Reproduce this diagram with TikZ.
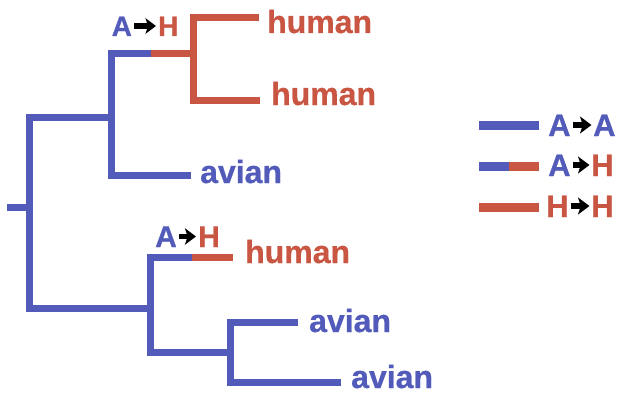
\documentclass[tikz,border=0pt]{standalone}
\usepackage{fontspec}
\setmainfont{Liberation Sans}
\newfontfamily\labelfont{Liberation Sans Bold}[FakeBold=0.6]
\usetikzlibrary{arrows.meta,calc}
\definecolor{avianblue}{RGB}{82,91,186}
\definecolor{humanred}{RGB}{201,86,66}
\tikzset{
  branch/.style={line width=7pt, line join=miter, line cap=butt},
  keyline/.style={line width=9pt, line cap=butt},
  leaf/.style={anchor=base west, inner sep=0pt, font=\labelfont\fontsize{32}{36}\selectfont},
  hostA/.style={anchor=base west, inner sep=0pt, text=avianblue, font=\labelfont\fontsize{#1}{#1}\selectfont},
  hostH/.style={anchor=base west, inner sep=0pt, text=humanred, font=\labelfont\fontsize{#1}{#1}\selectfont},
  jump/.style={black, line width=#1, -{Stealth[length=1.9*#1, width=2.8*#1, inset=0.45*#1]}},
}
\begin{document}
\begin{tikzpicture}[x=1pt, y=-1pt]
\useasboundingbox (0,0) rectangle (618,396);

% ---- tree: internal nodes and tips
\coordinate (root)  at (29,207);
\coordinate (stub)  at (7,207);

% root
\draw[branch, avianblue] (stub) -- (root);
\draw[branch, avianblue] (111,117) -- (29,117) -- (29,308) -- (150,308);

% upper clade
\draw[branch, avianblue] (191,175) -- (111,175) -- (111,54) -- (151,54);
\draw[branch, humanred] (151,54) -- (193,54);
\draw[branch, humanred] (259,18) -- (193,18) -- (193,100) -- (260,100);

% lower clade
\draw[branch, avianblue] (192,257) -- (150,257) -- (150,352) -- (230,352);
\draw[branch, humanred] (192,257) -- (233,257);
\draw[branch, avianblue] (298,322) -- (230,322) -- (230,382) -- (341,382);

% ---- tip labels
\node[leaf, text=humanred]  (t1) at (267,33)  {human};
\node[leaf, text=humanred]  (t2) at (271,105) {human};
\node[leaf, text=avianblue] (t3) at (200,183) {avian};
\node[leaf, text=humanred]  (t4) at (245,263) {human};
\node[leaf, text=avianblue] (t5) at (309,332) {avian};
\node[leaf, text=avianblue] (t6) at (351,388) {avian};

% ---- host switch marks on the tree
\node[hostA=28] (a1) at (111.5,36) {A};
\node[hostH=28] (h1) at (158,36) {H};
\draw[jump=5.5pt] ($(a1.base east)+(2pt,10pt)$) -- ($(h1.base west)+(-2pt,10pt)$);

\node[hostA=30] (a2) at (155,247) {A};
\node[hostH=30] (h2) at (198,247) {H};
\draw[jump=5.8pt] ($(a2.base east)+(2pt,10.5pt)$) -- ($(h2.base west)+(-2pt,10.5pt)$);

% ---- key
\coordinate (k1l) at (479,125); \coordinate (k1r) at (539,125);
\coordinate (k2l) at (479,166); \coordinate (k2m) at (509,166); \coordinate (k2r) at (539,166);
\coordinate (k3l) at (479,207); \coordinate (k3r) at (539,207);
\draw[keyline, avianblue] (k1l) -- (k1r);
\draw[keyline, avianblue] (k2l) -- (k2m);
\draw[keyline, humanred]  (k2m) -- (k2r);
\draw[keyline, humanred]  (k3l) -- (k3r);

\node[hostA=31] (ka1) at (548,136) {A};
\node[hostA=31] (kb1) at (593,136) {A};
\draw[jump=6pt] ($(ka1.base east)+(2pt,11pt)$) -- ($(kb1.base west)+(-1.5pt,11pt)$);

\node[hostA=31] (ka2) at (548,176) {A};
\node[hostH=31] (kb2) at (591,176) {H};
\draw[jump=6pt] ($(ka2.base east)+(2pt,11pt)$) -- ($(kb2.base west)+(-1.5pt,11pt)$);

\node[hostH=31] (ka3) at (546,217) {H};
\node[hostH=31] (kb3) at (591,217) {H};
\draw[jump=6pt] ($(ka3.base east)+(2pt,11pt)$) -- ($(kb3.base west)+(-1.5pt,11pt)$);
\end{tikzpicture}
\end{document}
